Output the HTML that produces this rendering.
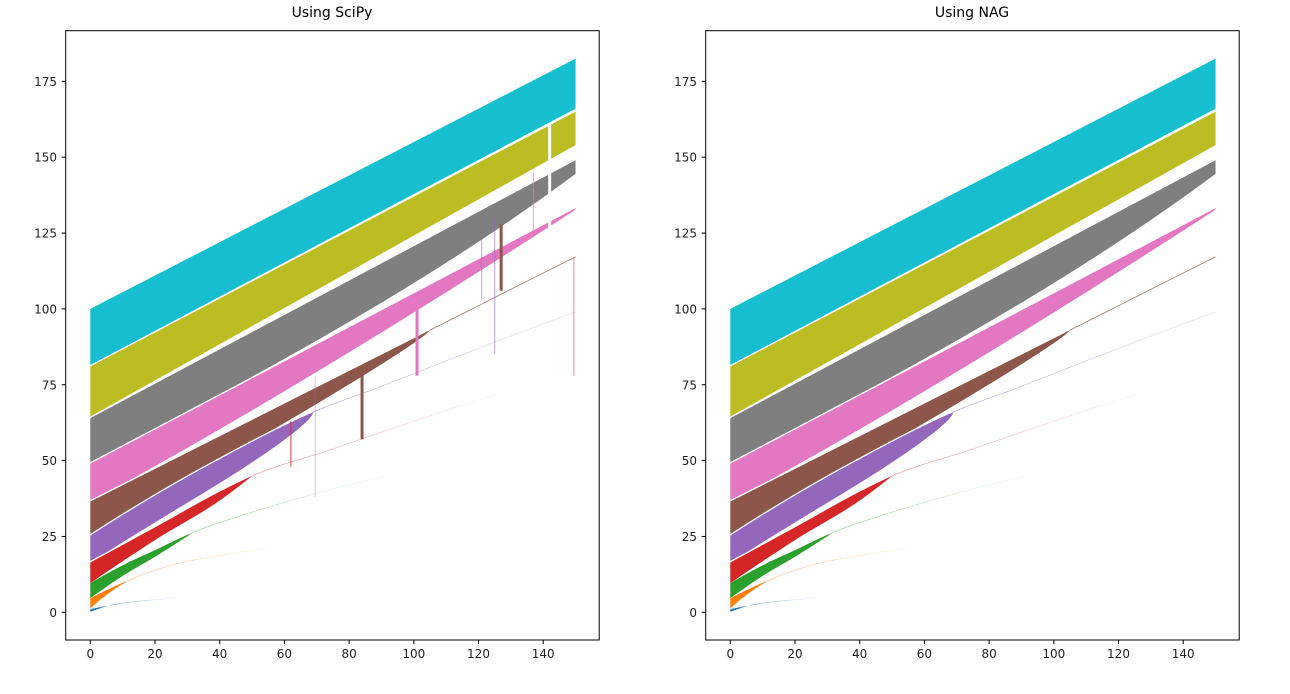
<!DOCTYPE html>
<html><head><meta charset="utf-8"><style>
html,body{margin:0;padding:0;background:#fff;}
svg{display:block;font-family:"DejaVu Sans","Liberation Sans",sans-serif;}
</style></head><body>
<svg id="s" width="1290" height="694" viewBox="0 0 1290 694" xmlns="http://www.w3.org/2000/svg"></svg>
<script>
const S=document.getElementById('s');
const NS='http://www.w3.org/2000/svg';
function el(t,a,txt){const e=document.createElementNS(NS,t);for(const k in a)e.setAttribute(k,a[k]);if(txt!==undefined)e.textContent=txt;S.appendChild(e);return e;}
const cols=['#1f77b4','#ff7f0e','#2ca02c','#d62728','#9467bd','#8c564b','#e377c2','#7f7f7f','#bcbd22','#17becf'];
function mk(P){const n=P.length;const xs=P.map(p=>p[0]),ys=P.map(p=>p[1]);
 const d=[],m=[];for(let k=0;k<n-1;k++)d.push((ys[k+1]-ys[k])/(xs[k+1]-xs[k]));
 if(n==2)return x=>ys[0]+d[0]*(x-xs[0]);
 for(let k=1;k<n-1;k++){m[k]=(d[k-1]*d[k]<=0)?0:(d[k-1]*(xs[k+1]-xs[k])+d[k]*(xs[k]-xs[k-1]))/(xs[k+1]-xs[k-1]);}
 m[0]=2*d[0]-m[1];if(m[0]*d[0]<0)m[0]=0;
 m[n-1]=2*d[n-2]-m[n-2];if(m[n-1]*d[n-2]<0)m[n-1]=0;
 return x=>{let k=0;while(k<n-2&&x>xs[k+1])k++;const h=xs[k+1]-xs[k],t=(x-xs[k])/h;
  const h00=2*t*t*t-3*t*t+1,h10=t*t*t-2*t*t+t,h01=-2*t*t*t+3*t*t,h11=t*t*t-t*t;
  return h00*ys[k]+h10*h*m[k]+h01*ys[k+1]+h11*h*m[k+1];};}
const lin=(a,b)=>x=>a+(b-a)*x/150;
const B=[
 {U:mk([[0,1],[10,3],[25,4.6],[60,8],[150,14]]),L:mk([[0,0.2],[6,2.4]]),xe:6,fe:28,lw:0.5},
 {U:mk([[0,4.6],[11,10.2],[25,15.5],[41,18.9],[54,21],[100,28],[150,35]]),L:mk([[0,1.3],[6,6.5],[11,10]]),xe:11,fe:60,lw:0.5},
 {U:mk([[0,9.6],[10,15.5],[20,20.5],[31,26],[50,33],[72,39.8],[100,47],[150,58]]),L:mk([[0,4.6],[10,12],[20,18.3],[31,25.8]]),xe:31,fe:95,lw:0.5},
 {U:mk([[0,16.4],[20,28],[41,40.3],[49.5,44.7],[74,53.5],[100,63],[126,72],[150,79]]),L:mk([[0,9.6],[20,23.8],[41,37.6],[49.5,44.5]]),xe:49.5,fe:130,lw:0.5},
 {U:mk([[0,25.3],[20,38.5],[40,50.5],[69,66],[90,74.5],[120,87],[150,99]]),W:x=>9*Math.pow(Math.max(0,1-Math.pow(x/69,3)),0.6),xe:69,fe:170,lw:0.6},
 {U:lin(36.5,117.2),W:x=>11*Math.pow(Math.max(0,1-x/105),0.64),xe:105,fe:400,lw:0.8},
 {U:lin(49,133.2),W:x=>12.5-12*Math.pow(x/150,1.63),xe:150},
 {U:lin(64,149),W:x=>15-10.5*Math.pow(x/150,3.2),xe:150},
 {U:lin(81,165),W:x=>16.5-5.5*x/150,xe:150},
 {U:lin(100,182.5),W:x=>18.5-2*x/150,xe:150}
];
function draw(ox,title,glitch){
  const X=x=>ox+90.3+3.235*x, Y=y=>612.3-3.034*y;
  el('text',{x:ox+332,y:17,'text-anchor':'middle','font-size':14,fill:'#000'},title);
  for(let i=9;i>=0;i--){
    const b=B[i];
    const U=b.U,xe=b.xe;
    let L;
    if(b.W){const P=B[i-1].U;L=x=>Math.min(U(x),Math.max(U(x)-b.W(x),P(x)+0.5));}
    else L=x=>Math.min(U(x),b.L(x));
    let top=[],bot=[];
    const xs=[];for(let x=0;x<xe;x+=0.5)xs.push(x);xs.push(xe);
    xs.forEach(x=>top.push(X(x).toFixed(2)+','+Y(U(x)).toFixed(2)));
    xs.slice().reverse().forEach(x=>bot.push(X(x).toFixed(2)+','+Y(L(x)).toFixed(2)));
    el('polygon',{points:top.concat(bot).join(' '),fill:cols[i]});
    if(xe<150){
      const fe=b.fe;
      for(let x=xe;x<150;x+=2){
        const x2=Math.min(150,x+2);
        let o=Math.max(0,1-(x-xe)/(fe-xe))*0.7;
        if(i==4)o=Math.max(0.3,o);
        if(i>=5)o=0.8;
        if(o<=0.02)continue;
        el('line',{x1:X(x),y1:Y(U(x)),x2:X(x2),y2:Y(U(x2)),stroke:cols[i],'stroke-width':b.lw,'stroke-opacity':o.toFixed(2)});
      }
    }
  }
  if(glitch){
    const v=(x,y1,y2,c,w,o)=>el('line',{x1:X(x),x2:X(x),y1:Y(y1),y2:Y(y2),stroke:c,'stroke-width':w,'stroke-opacity':o});
    v(142,125,161,'#fff',3,1);
    v(101,78,100,'#e377c2',3,1);
    v(84,57,80,'#8c564b',3,1);
    v(127,106,128,'#8c564b',3,1);
    v(62,48,63,'#d62728',1.5,0.6);
    v(69.5,38,78,'#9467bd',1,0.4);
    v(121,103,125,'#9467bd',1.2,0.5);
    v(125,85,130,'#9467bd',1.2,0.5);
    v(137,125,145,'#e377c2',1.2,0.6);
    v(149.5,78,117,'#d62728',1,0.5);
  }
  el('rect',{x:ox+65.7,y:30.7,width:533.5,height:609.3,fill:'none',stroke:'#000','stroke-width':1});
  for(let x=0;x<=140;x+=20){el('line',{x1:X(x),x2:X(x),y1:640,y2:644,stroke:'#000'});
    el('text',{x:X(x),y:658,'text-anchor':'middle','font-size':12,fill:'#222'},x);}
  for(let y=0;y<=175;y+=25){el('line',{x1:ox+61.7,x2:ox+65.7,y1:Y(y),y2:Y(y),stroke:'#000'});
    el('text',{x:ox+57,y:Y(y)+4.5,'text-anchor':'end','font-size':12,fill:'#222'},y);}
}
draw(0,'Using SciPy',true);
draw(640,'Using NAG',false);
</script>
</body></html>
